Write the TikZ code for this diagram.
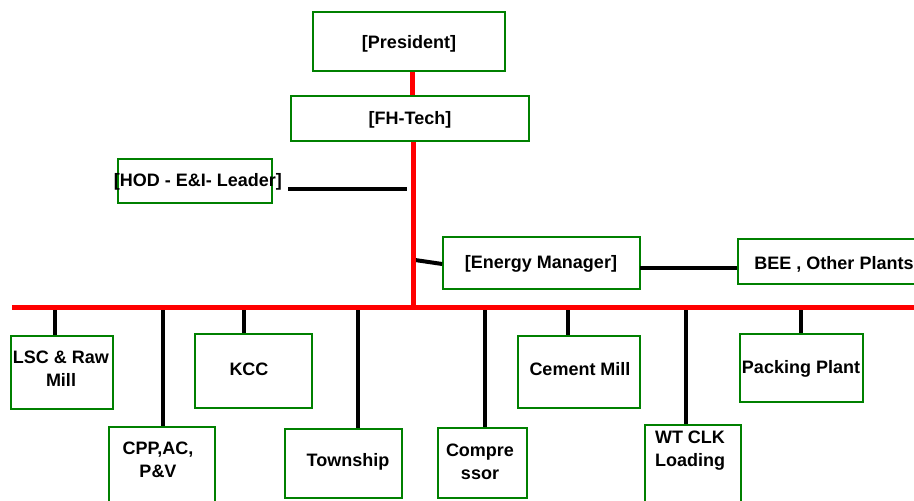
\documentclass[tikz,border=0pt]{standalone}
\usepackage{fontspec}
\setmainfont{Liberation Sans}
\usetikzlibrary{fit,positioning}
\definecolor{boxgreen}{RGB}{0,128,0}

\begin{document}
\begin{tikzpicture}[x=0.75pt,y=-0.75pt,
    unit/.style={draw=boxgreen,line width=1.2pt,inner sep=0pt},
    caption/.style={inner sep=0pt,align=center,
      font=\fontsize{13.5pt}{17.25pt}\selectfont\bfseries},
    bus/.style={red,line width=3.75pt},
    link/.style={black,line width=3pt}]
  \useasboundingbox (0,0) rectangle (914,500);

  % management
  \node[unit,fit={(313,12) (505,71)}] (pres) {};
  \node[caption] (prestxt) at (409,44) {[President]};
  \node[unit,fit={(291,96) (529,141)}] (fh) {};
  \node[caption] (fhtxt) at (410,120) {[FH-Tech]};
  \node[unit,fit={(118,159) (272,203)}] (hod) {};
  \node[caption] (hodtxt) at (198,182) {[HOD - E\&I- Leader]};
  \node[unit,fit={(443,237) (640,289)}] (em) {};
  \node[caption] (emtxt) at (541,264) {[Energy Manager]};
  \node[unit,fit={(738,239) (930,284)}] (bee) {};
  \node[caption] (beetxt) at (834,264) {BEE , Other Plants};

  % plant sections
  \node[unit,fit={(11,336) (113,409)}] (lsc) {};
  \node[caption] (lsctxt) at (61,369) {LSC \& Raw\\Mill};
  \node[unit,fit={(109,427) (215,520)}] (cpp) {};
  \node[caption] (cpptxt) at (158,460) {CPP,AC,\\P\&V};
  \node[unit,fit={(195,334) (312,408)}] (kcc) {};
  \node[caption] (kcctxt) at (249,369) {KCC};
  \node[unit,fit={(285,429) (402,498)}] (town) {};
  \node[caption] (towntxt) at (348,462) {Township};
  \node[unit,fit={(438,428) (527,498)}] (comp) {};
  \node[caption] (comptxt) at (480,462) {Compre\\ssor};
  \node[unit,fit={(518,336) (640,408)}] (cem) {};
  \node[caption] (cemtxt) at (580,369) {Cement Mill};
  \node[unit,fit={(645,425) (741,520)}] (wt) {};
  \node[caption] (wttxt) at (690,451) {WT CLK\\Loading};
  \node[unit,fit={(740,334) (863,402)}] (pack) {};
  \node[caption] (packtxt) at (801,369) {Packing Plant};

  \coordinate (busL) at (12,307);
  \coordinate (busR) at (916,307);
  \coordinate (spine) at (413,307);
  \coordinate (hodA) at (288,189);
  \coordinate (hodB) at (407,189);
  \coordinate (emJ) at (415,260);
  \coordinate (emR) at (640,268);

  % black links
  \foreach \b/\x in {lsc/55,cpp/163,kcc/244,town/358,comp/485,cem/568,wt/686,pack/801}
    \draw[link] (\x,0 |- busL) -- (\b.north -| \x,0);
  \draw[link] (hodA) -- (hodB);
  \draw[link] (emJ) -- ([yshift=-0.75pt]em.west);
  \draw[link] (emR) -- (bee.west |- emR);

  % red lines
  \draw[bus] (pres.south -| 412,0) -- (fh.north -| 412,0);
  \draw[bus] (fh.south -| spine) -- ([yshift=-1.8pt]spine);
  \draw[bus] (busL) -- (busR);
\end{tikzpicture}
\end{document}
